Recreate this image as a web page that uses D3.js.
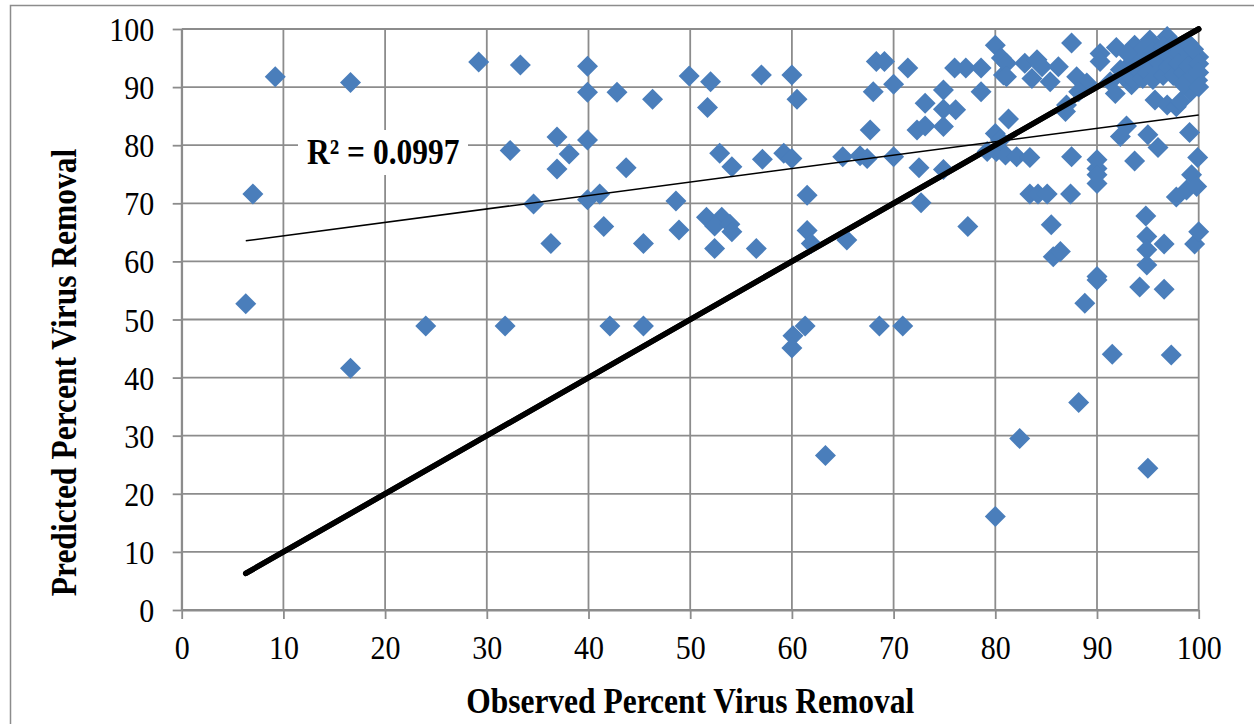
<!DOCTYPE html>
<html>
<head>
<meta charset="utf-8">
<script src="https://cdn.jsdelivr.net/npm/d3@7"></script>
<style>
  html, body { margin: 0; padding: 0; background: #fff; }
  svg { display: block; }
</style>
</head>
<body>
<svg id="chart" width="1254" height="724"></svg>
<script>
// Observed vs. predicted percent virus removal
const observed = [
  6.3, 7.0, 9.2, 16.6, 16.6, 24.0, 29.2, 31.8, 32.3, 33.3,
  34.6, 36.3, 36.9, 36.9, 38.1, 39.9, 39.9, 39.9, 39.9, 41.1,
  41.5, 42.1, 42.8, 43.7, 45.4, 45.4, 46.3, 48.6, 48.9, 49.9,
  51.7, 52.0, 51.6, 53.1, 52.4, 53.9, 54.1, 52.4, 52.9, 54.1,
  56.5, 57.0, 57.1, 59.2, 60.0, 60.0, 60.5, 60.1, 60.0, 61.3,
  61.5, 61.5, 61.9, 63.3, 65.0, 65.4, 66.7, 67.4, 67.7, 68.0,
  68.3, 69.1, 68.6, 70.0, 70.0, 70.9, 71.4, 72.3, 72.5, 72.7,
  73.1, 73.1, 74.9, 74.9, 74.9, 74.9, 76.0, 76.1, 77.1, 77.3,
  78.6, 78.6, 79.2, 80.0, 80.6, 80.8, 80.0, 80.1, 81.0, 81.3,
  80.5, 80.0, 81.1, 82.9, 84.1, 84.6, 86.2, 81.1, 83.6, 85.4,
  87.5, 88.0, 89.0, 88.2, 87.0, 86.9, 82.1, 83.4, 87.5, 83.4,
  84.2, 85.1, 87.4, 85.5, 85.7, 86.4, 82.4, 88.2, 88.8, 90.0,
  90.0, 90.0, 90.0, 90.0, 90.0, 91.5, 92.3, 92.9, 93.7, 94.2,
  94.8, 94.9, 94.9, 94.9, 95.0, 95.0, 96.0, 96.6, 96.6, 97.3,
  97.8, 98.8, 99.3, 99.8, 99.9, 99.1, 99.6, 100.0,
  90.3, 90.3, 91.9, 91.3, 91.8, 93.7, 95.2, 96.9, 98.8, 100.0,
  93.4, 95.7, 96.9, 97.8, 98.2, 99.2, 99.9,
  92.5, 93.0, 93.5, 94.0, 94.0, 94.5, 94.5, 95.0, 95.0, 95.5,
  95.5, 96.0, 96.0, 96.5, 96.5, 97.0, 97.0, 97.5, 97.5, 98.0,
  98.0, 98.5, 98.5, 99.0, 99.0, 99.0, 99.5, 99.5, 100.0, 100.0,
  100.0, 93.0, 92.3
];
const predicted = [
  52.7, 71.6, 91.8, 90.8, 41.6, 48.9, 94.3, 48.9, 79.1, 93.8,
  69.9, 63.1, 81.4, 75.9, 78.5, 93.6, 89.1, 80.9, 70.6, 71.6,
  66.0, 48.9, 89.1, 76.1, 63.1, 48.9, 87.9, 70.4, 65.4, 91.9,
  86.5, 90.9, 67.6, 67.6, 66.1, 66.4, 65.1, 62.2, 78.6, 76.3,
  62.2, 92.1, 77.6, 78.6, 92.1, 77.7, 87.9, 47.2, 45.1, 48.9,
  71.4, 65.3, 63.1, 26.6, 78.0, 63.7, 78.2, 77.7, 82.6, 89.2,
  94.4, 94.4, 48.9, 90.5, 78.0, 48.9, 93.3, 82.6, 76.1, 70.1,
  87.2, 83.3, 89.5, 86.2, 83.2, 75.8, 93.3, 86.1, 93.3, 66.0,
  93.3, 89.2, 78.9, 97.2, 95.0, 92.1, 82.0, 78.9, 78.3, 84.5,
  80.9, 16.1, 94.1, 94.1, 94.7, 93.5, 93.5, 91.8, 91.5, 90.9,
  97.6, 91.8, 90.7, 89.2, 86.9, 85.8, 78.0, 77.9, 78.0, 71.6,
  71.6, 71.6, 71.6, 66.3, 60.8, 61.7, 29.5, 35.7, 52.8, 56.8,
  57.4, 77.5, 76.0, 74.9, 73.4, 44.0, 81.5, 83.3, 77.3, 55.6,
  67.8, 64.3, 62.0, 59.4, 24.4, 81.8, 79.6, 63.0, 55.2, 43.9,
  71.1, 72.3, 74.9, 72.9, 77.9, 82.2, 63.0, 65.1,
  95.8, 94.4, 96.8, 90.9, 88.9, 97.2, 98.1, 98.7, 97.2, 95.2,
  90.4, 87.8, 86.9, 86.6, 87.5, 89.2, 91.2,
  92.0, 93.5, 91.5, 95.0, 93.0, 96.5, 91.5, 94.0, 92.5, 96.0,
  91.3, 94.5, 92.5, 97.0, 92.0, 95.5, 93.5, 97.5, 92.0, 96.0,
  94.0, 92.5, 90.5, 97.5, 95.0, 93.5, 96.5, 92.0, 94.0, 92.5,
  90.0, 95.8, 93.0
];

// Axis tick values
const xTicks = [0, 10, 20, 30, 40, 50, 60, 70, 80, 90, 100];
const yTicks = [0, 10, 20, 30, 40, 50, 60, 70, 80, 90, 100];

// Linear trend line fitted to the points, and its coefficient of determination
const trendSlope = 0.231;
const trendIntercept = 62.1;
const rSquaredLabel = "R\u00B2 = 0.0997";

const xTitle = "Observed Percent Virus Removal";
const yTitle = "Predicted Percent Virus Removal";

const svg = d3.select("#chart");
const W = 1254, H = 724;
const plot = { left: 181.7, right: 1198.7, top: 29, bottom: 610 };

const x = d3.scaleLinear().domain([0, 100]).range([plot.left, plot.right]);
const y = d3.scaleLinear().domain([0, 100]).range([plot.bottom, plot.top]);

const gridColor = "#8c8c8c";
const serif = "'Liberation Serif', 'Times New Roman', serif";
const stretch = 1.12;

// Chart frame
svg.append("rect")
  .attr("x", 10.5).attr("y", 5.5)
  .attr("width", W + 20).attr("height", H + 20)
  .attr("fill", "#fff")
  .attr("stroke", gridColor).attr("stroke-width", 1.5);

// Gridlines
const grid = svg.append("g");
grid.selectAll("line.v").data(xTicks).join("line")
  .attr("x1", d => x(d)).attr("x2", d => x(d))
  .attr("y1", plot.top).attr("y2", plot.bottom)
  .attr("stroke", gridColor).attr("stroke-width", 1.8);
grid.selectAll("line.h").data(yTicks).join("line")
  .attr("x1", plot.left).attr("x2", plot.right)
  .attr("y1", d => y(d)).attr("y2", d => y(d))
  .attr("stroke", gridColor).attr("stroke-width", 1.8);

// Axes
const xAxis = svg.append("g")
  .attr("transform", `translate(0,${plot.bottom})`)
  .call(d3.axisBottom(x).tickValues(xTicks).tickSizeInner(9).tickSizeOuter(0).tickFormat(d3.format("d")));
const yAxis = svg.append("g")
  .attr("transform", `translate(${plot.left},0)`)
  .call(d3.axisLeft(y).tickValues(yTicks).tickSizeInner(9).tickSizeOuter(0).tickFormat(d3.format("d")));

[xAxis, yAxis].forEach(g => {
  g.select(".domain").attr("stroke", gridColor).attr("stroke-width", 1.8);
  g.selectAll(".tick line").attr("stroke", gridColor).attr("stroke-width", 1.8);
  g.selectAll(".tick text")
    .attr("font-family", serif).attr("font-size", 30).attr("fill", "#000");
});
xAxis.selectAll(".tick text")
  .attr("y", null).attr("dy", null)
  .attr("text-anchor", "middle")
  .attr("transform", `translate(0,49) scale(1,${stretch})`);
yAxis.selectAll(".tick text")
  .attr("x", null).attr("dy", null)
  .attr("text-anchor", "end")
  .attr("transform", `translate(-27.5,11.5) scale(1,${stretch})`);

// 1:1 line across the observed range
const xExt = d3.extent(observed);
svg.append("line")
  .attr("x1", x(xExt[0])).attr("y1", y(xExt[0]))
  .attr("x2", x(xExt[1])).attr("y2", y(xExt[1]))
  .attr("stroke", "#000").attr("stroke-width", 5.5)
  .attr("stroke-linecap", "round");

// Data points as diamonds
const r = 10.5;
const diamond = `M0,${-r}L${r},0L0,${r}L${-r},0Z`;
svg.append("g").selectAll("path")
  .data(observed.map((o, i) => [o, predicted[i]]))
  .join("path")
  .attr("d", diamond)
  .attr("transform", d => `translate(${x(d[0])},${y(d[1])})`)
  .attr("fill", "#4A7EBB");

// Redraw the 1:1 line over the markers
svg.append("line")
  .attr("x1", x(xExt[0])).attr("y1", y(xExt[0]))
  .attr("x2", x(xExt[1])).attr("y2", y(xExt[1]))
  .attr("stroke", "#000").attr("stroke-width", 5.5)
  .attr("stroke-linecap", "round");

// Linear trend line
svg.append("line")
  .attr("x1", x(xExt[0])).attr("y1", y(trendSlope * xExt[0] + trendIntercept))
  .attr("x2", x(xExt[1])).attr("y2", y(trendSlope * xExt[1] + trendIntercept))
  .attr("stroke", "#000").attr("stroke-width", 1.5);

// R² label with a white backing box
svg.append("rect")
  .attr("x", 298).attr("y", 130).attr("width", 170).attr("height", 45)
  .attr("fill", "#fff");
svg.append("text")
  .attr("transform", `translate(307,164) scale(1,${stretch})`)
  .attr("font-family", serif).attr("font-size", 31.5).attr("font-weight", "bold")
  .attr("fill", "#000")
  .text(rSquaredLabel);

// Axis titles
svg.append("text")
  .attr("transform", `translate(${(plot.left + plot.right) / 2},713) scale(1,${stretch})`)
  .attr("text-anchor", "middle")
  .attr("font-family", serif).attr("font-size", 31.5).attr("font-weight", "bold")
  .attr("fill", "#000")
  .text(xTitle);
svg.append("text")
  .attr("transform", `translate(76,${(plot.top + plot.bottom) / 2 + 53}) rotate(-90) scale(1,${stretch})`)
  .attr("text-anchor", "middle")
  .attr("font-family", serif).attr("font-size", 31.5).attr("font-weight", "bold")
  .attr("fill", "#000")
  .text(yTitle);
</script>
</body>
</html>
